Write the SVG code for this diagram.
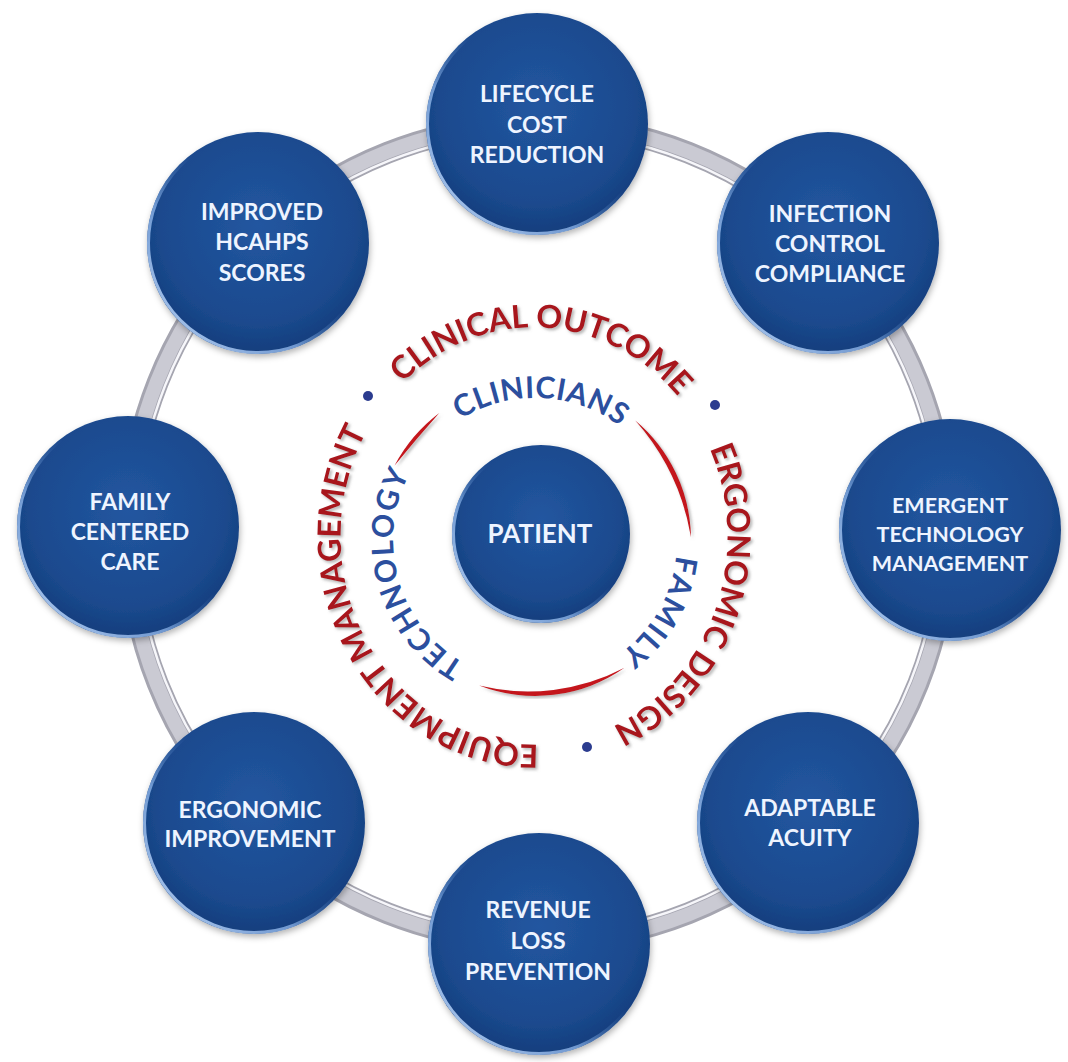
<svg xmlns="http://www.w3.org/2000/svg" width="1068" height="1062" viewBox="0 0 1068 1062">
<defs>
<style>
.disc{fill:url(#gBlue);filter:url(#shadow)}
.rim{fill:none;stroke:url(#gRim);stroke-width:3}
.nt{font-family:Lato,"Open Sans","Liberation Sans",sans-serif;font-weight:700;font-size:23px;fill:#eef4ff;text-anchor:middle}
.outer{font-family:Lato,"Open Sans","Liberation Sans",sans-serif;font-weight:700;font-size:32px;fill:#a8131d;filter:url(#tshadow)}
.inner{font-family:Lato,"Open Sans","Liberation Sans",sans-serif;font-weight:700;font-size:30px;fill:#2c4f9e}
.dot{fill:#2b3c8f}
.redarc{fill:#c4141c;filter:url(#tshadow)}
</style>
<radialGradient id="gBlue" cx="50%" cy="42%" r="62%">
<stop offset="0" stop-color="#2256a0"/>
<stop offset="0.7" stop-color="#1b4a8e"/>
<stop offset="1" stop-color="#123a78"/>
</radialGradient>
<linearGradient id="gRim" x1="0" y1="1" x2="1" y2="0">
<stop offset="0" stop-color="#c0d8f8" stop-opacity="1"/>
<stop offset="0.35" stop-color="#86aee4" stop-opacity="0.8"/>
<stop offset="0.55" stop-color="#3c6db0" stop-opacity="0"/>
</linearGradient>
<filter id="shadow" x="-20%" y="-20%" width="140%" height="140%">
<feDropShadow dx="1" dy="3" stdDeviation="3" flood-color="#000" flood-opacity="0.3"/>
</filter>
<filter id="tshadow" x="-10%" y="-10%" width="120%" height="120%">
<feDropShadow dx="2" dy="2" stdDeviation="1.5" flood-color="#777" flood-opacity="0.55"/>
</filter>
<path id="pOut1" d="M 366.4 431.75 A 193.5 208.5 0 0 1 709.4 447.9"/>
<path id="pOut2" d="M 682.2 402 A 193.5 208.5 0 0 1 560.9 742.5"/>
<path id="pOut3" d="M 600.2 731.9 A 193.5 208.5 0 0 1 404.5 381.1"/>
<path id="pIn1" d="M 412 469 A 142 142 0 0 1 663.7 480"/>
<path id="pIn2" d="M 658 469 A 142 142 0 0 1 535 682"/>
<path id="pIn3" d="M 510.35 679.8 A 142 142 0 0 1 440 434.5"/>
</defs>
<rect width="1068" height="1062" fill="#ffffff"/>
<g id="connectors">
<circle cx="538" cy="533" r="409" fill="none" stroke="#a5a5b0" stroke-width="22"/>
<circle cx="538" cy="533" r="410" fill="none" stroke="#cacad3" stroke-width="14"/>
<circle cx="538" cy="533" r="401" fill="none" stroke="#f6f6fa" stroke-width="2.5"/>
</g>
<g id="node-lifecycle">
<circle class="disc" cx="537" cy="124" r="111"/><circle class="rim" cx="537" cy="124" r="109.5"/>
<text class="nt"><tspan x="537" y="102">LIFECYCLE</tspan><tspan x="537" y="133">COST</tspan><tspan x="537" y="163">REDUCTION</tspan></text>
</g>
<g id="node-infection">
<circle class="disc" cx="828" cy="243" r="111"/><circle class="rim" cx="828" cy="243" r="109.5"/>
<text class="nt"><tspan x="830" y="222">INFECTION</tspan><tspan x="830" y="252">CONTROL</tspan><tspan x="830" y="282">COMPLIANCE</tspan></text>
</g>
<g id="node-emergent">
<circle class="disc" cx="950" cy="530" r="111"/><circle class="rim" cx="950" cy="530" r="109.5"/>
<text class="nt" style="font-size:21.5px"><tspan x="950" y="513">EMERGENT</tspan><tspan x="950" y="542">TECHNOLOGY</tspan><tspan x="950" y="571">MANAGEMENT</tspan></text>
</g>
<g id="node-adaptable">
<circle class="disc" cx="808" cy="823" r="111"/><circle class="rim" cx="808" cy="823" r="109.5"/>
<text class="nt"><tspan x="810" y="816">ADAPTABLE</tspan><tspan x="810" y="846">ACUITY</tspan></text>
</g>
<g id="node-revenue">
<circle class="disc" cx="539" cy="944" r="111"/><circle class="rim" cx="539" cy="944" r="109.5"/>
<text class="nt"><tspan x="538" y="918">REVENUE</tspan><tspan x="538" y="949">LOSS</tspan><tspan x="538" y="980">PREVENTION</tspan></text>
</g>
<g id="node-ergonomic">
<circle class="disc" cx="254" cy="823" r="111"/><circle class="rim" cx="254" cy="823" r="109.5"/>
<text class="nt"><tspan x="250" y="818">ERGONOMIC</tspan><tspan x="250" y="847">IMPROVEMENT</tspan></text>
</g>
<g id="node-family">
<circle class="disc" cx="128" cy="527" r="111"/><circle class="rim" cx="128" cy="527" r="109.5"/>
<text class="nt"><tspan x="130" y="510">FAMILY</tspan><tspan x="130" y="540">CENTERED</tspan><tspan x="130" y="570">CARE</tspan></text>
</g>
<g id="node-improved">
<circle class="disc" cx="258" cy="243" r="111"/><circle class="rim" cx="258" cy="243" r="109.5"/>
<text class="nt"><tspan x="262" y="220">IMPROVED</tspan><tspan x="262" y="250">HCAHPS</tspan><tspan x="262" y="281">SCORES</tspan></text>
</g>
<g id="node-patient">
<circle class="disc" cx="541" cy="534" r="89"/><circle class="rim" cx="541" cy="534" r="87.5"/>
<text class="nt" style="font-size:26px" x="540" y="543">PATIENT</text>
</g>
<g id="ring-labels">
<text class="outer"><textPath href="#pOut1" startOffset="50%" text-anchor="middle">CLINICAL OUTCOME</textPath></text>
<text class="outer"><textPath href="#pOut2" startOffset="50%" text-anchor="middle">ERGONOMIC DESIGN</textPath></text>
<text class="outer"><textPath href="#pOut3" startOffset="50%" text-anchor="middle">EQUIPMENT MANAGEMENT</textPath></text>
<circle class="dot" cx="368" cy="396" r="5"/>
<circle class="dot" cx="715" cy="405" r="5"/>
<circle class="dot" cx="587" cy="747" r="5"/>
<text class="inner" style="letter-spacing:0.5px"><textPath href="#pIn1" startOffset="50%" text-anchor="middle">CLINICIANS</textPath></text>
<text class="inner" style="letter-spacing:2px"><textPath href="#pIn2" startOffset="50%" text-anchor="middle">FAMILY</textPath></text>
<text class="inner" style="letter-spacing:1.5px"><textPath href="#pIn3" startOffset="50%" text-anchor="middle">TECHNOLOGY</textPath></text>
<path class="redarc" d="M 635.3 420.5 A 156 156 0 0 1 691 537.3 A 236 236 0 0 0 635.3 420.5 Z"/>
<path class="redarc" d="M 624.5 667.8 A 156 156 0 0 1 479.1 685.6 A 208.5 208.5 0 0 0 624.5 667.8 Z"/>
<path class="redarc" d="M 394.6 465.4 A 159 159 0 0 1 439.3 413 A 2190 2190 0 0 0 394.6 465.4 Z"/>
</g>
</svg>
